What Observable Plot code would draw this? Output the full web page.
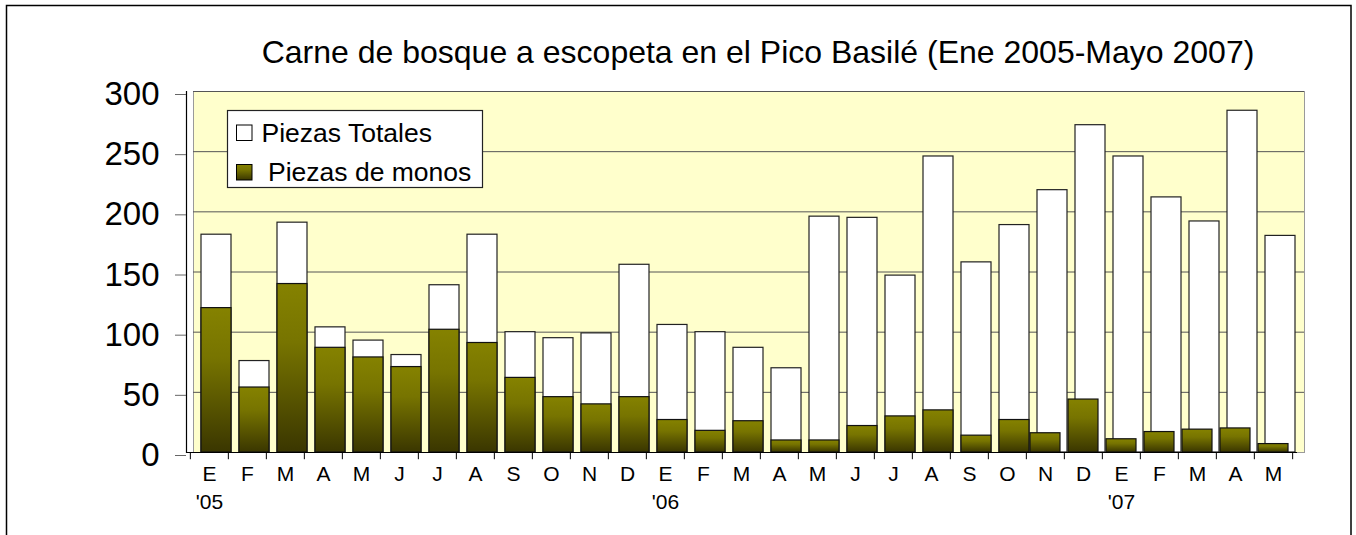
<!DOCTYPE html>
<html><head><meta charset="utf-8">
<script src="https://cdn.jsdelivr.net/npm/d3@7"></script>
<script src="https://cdn.jsdelivr.net/npm/@observablehq/plot@0.6"></script>
<style>body{margin:0;background:#fff}</style>
</head><body><div id="chart"></div>
<script>
const meses = ["E","F","M","A","M","J","J","A","S","O","N","D","E","F","M","A","M","J","J","A","S","O","N","D","E","F","M","A","M"];
const anios = ["'05","","","","","","","","","","","","'06","","","","","","","","","","","","'07","","","",""];
const totales = [181, 76, 191, 104, 93, 81, 139, 181, 100, 95, 99, 156, 106, 100, 87, 70, 196, 195, 147, 246, 158, 189, 218, 272, 246, 212, 192, 284, 180];
const monos = [120, 54, 140, 87, 79, 71, 102, 91, 62, 46, 40, 46, 27, 18, 26, 10, 10, 22, 30, 35, 14, 27, 16, 44, 11, 17, 19, 20, 7];
const yTicks = [0, 50, 100, 150, 200, 250, 300];
const titulo = "Carne de bosque a escopeta en el Pico Basilé (Ene 2005-Mayo 2007)";
const leyenda = ["Piezas Totales", "Piezas de monos"];

const idx = d3.range(meses.length);
const data = idx.map(i => ({i, total: totales[i], monos: monos[i]}));
const step = (1297 - 186) / meses.length;

const plot = Plot.plot({
  width: 1356, height: 535,
  marginLeft: 186, marginRight: 59, marginTop: 91, marginBottom: 83,
  style: {fontFamily: "'Liberation Sans', Arial, sans-serif", background: "#fff", overflow: "visible", color: "#000"},
  x: {domain: idx, padding: 0.2, label: null},
  y: {domain: [0, 300], label: null},
  marks: [
    Plot.frame({fill: "#ffffcc", stroke: "#9a9a9a", dx: 7}),
    Plot.gridY(yTicks.filter(d => d > 0), {stroke: "#555", strokeOpacity: 1, dx: 7}),
    Plot.barY(data, {x: "i", y: "total", fill: "white", stroke: "#222", strokeWidth: 1.2, dx: 7}),
    Plot.barY(data.filter(d => d.i <= 21), {x: "i", y: "monos", fill: "url(#gradMonos)", stroke: "#111", strokeWidth: 1.2, dx: 7}),
    Plot.barY(data.filter(d => d.i > 21), {x: "i", y: "monos", fill: "url(#gradMonos)", stroke: "#111", strokeWidth: 1.2}),
    Plot.ruleY([0], {stroke: "#000", strokeWidth: 1.2}),
    Plot.frame({anchor: "left", stroke: "#000", strokeWidth: 1.2}),
    Plot.ruleX(idx, {x: d => d, dx: -step / 2, y1: 0, y2: -6, stroke: "#000"}),
    Plot.ruleX([idx[idx.length - 1]], {x: d => d, dx: step / 2, y1: 0, y2: -6, stroke: "#000"}),
    Plot.axisY(yTicks, {tickSize: 11, tickPadding: 16, fontSize: 33, dy: 3, stroke: "#666"}),
    Plot.axisX({tickSize: 0, tickPadding: 14, fontSize: 21, tickFormat: i => meses[i]}),
    Plot.axisX({tickSize: 0, tickPadding: 42, fontSize: 21, tickFormat: i => anios[i]}),
    Plot.text([titulo], {text: d => d, frameAnchor: "top", dx: 16, dy: -28.5, lineAnchor: "bottom", fontSize: 32})
  ]
});

const svg = d3.select(plot);
const defs = svg.insert("defs", ":first-child");
const g = defs.append("linearGradient").attr("id", "gradMonos")
  .attr("x1", 0).attr("y1", 0).attr("x2", 0).attr("y2", 1);
[["0%", "#858200"], ["35%", "#777400"], ["100%", "#3a3600"]].forEach(([o, c]) =>
  g.append("stop").attr("offset", o).attr("stop-color", c));

// legend
const lg = svg.append("g").attr("font-size", 26.5).attr("text-anchor", "start").attr("fill", "#000");
lg.append("rect").attr("x", 227.5).attr("y", 110.5).attr("width", 255).attr("height", 77)
  .attr("fill", "#fff").attr("stroke", "#222").attr("stroke-width", 1.2);
lg.append("rect").attr("x", 236.5).attr("y", 125).attr("width", 15.5).attr("height", 15.5)
  .attr("fill", "#fff").attr("stroke", "#000");
lg.append("rect").attr("x", 236.5).attr("y", 164.5).attr("width", 15.5).attr("height", 15.5)
  .attr("fill", "url(#gradMonos)").attr("stroke", "#000");
lg.append("text").attr("x", 261.5).attr("y", 141.5).attr("text-anchor", "start").text(leyenda[0]);
lg.append("text").attr("x", 268).attr("y", 181).attr("text-anchor", "start").text(leyenda[1]);

// outer border
svg.append("rect").attr("x", 6.5).attr("y", 5.5).attr("width", 1344.5).attr("height", 540)
  .attr("fill", "none").attr("stroke", "#000").attr("stroke-width", 1.5);

document.getElementById("chart").appendChild(plot);
</script>
</body></html>
